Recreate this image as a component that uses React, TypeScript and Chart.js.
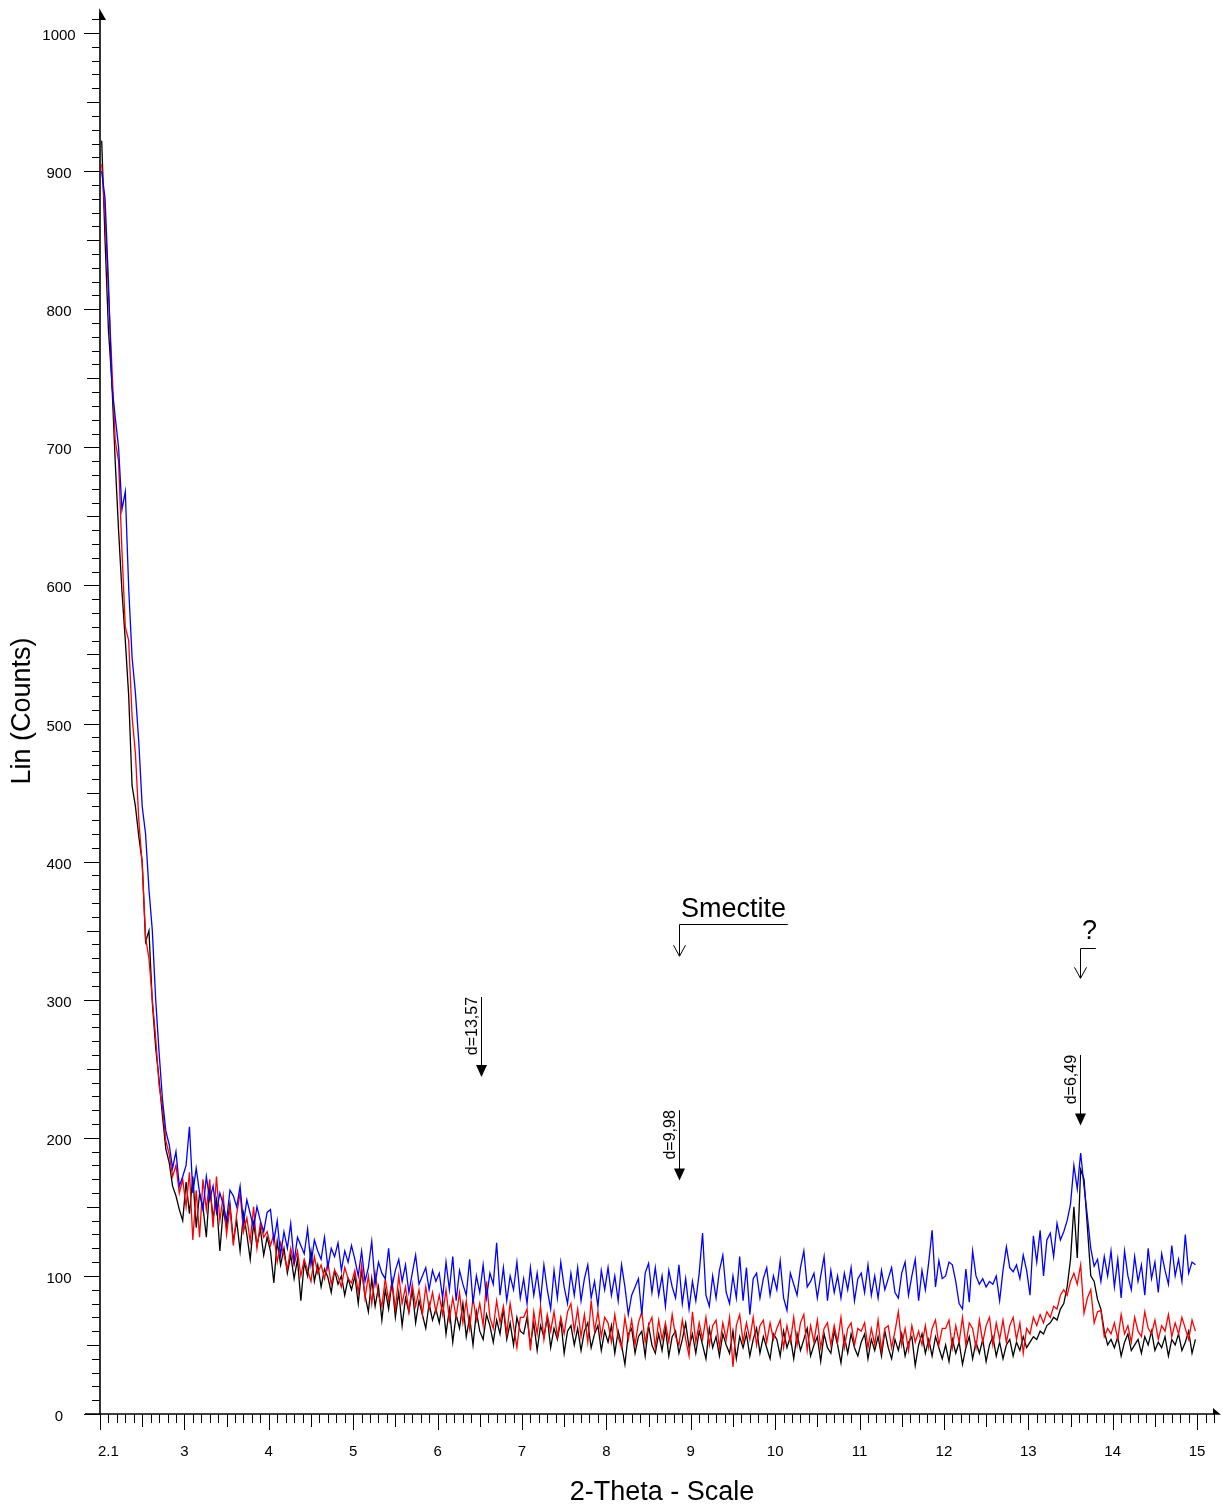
import { useEffect, useRef } from "react";
import { Chart, registerables } from "chart.js";

Chart.register(...registerables);

// ---- data (2-Theta scan, one value every 0.04° starting at 2.02°) ----
const X_START = 2.02;
const X_STEP = 0.04;

const blackCounts = [
  922, 850, 785, 748, 690, 640, 596, 560, 520, 455, 440, 418, 400, 342, 350, 298, 265, 242, 216, 192, 182, 165, 158, 148, 140,
  168, 145, 172, 135, 160, 150, 128, 165, 142, 155, 118, 148, 135, 152, 125, 140, 118, 145, 130, 112, 138, 122, 134, 115, 128,
  118, 95, 125, 108, 120, 102, 115, 98, 112, 82, 110, 100, 118, 96, 108, 92, 105, 99, 88, 104, 94, 100, 86, 98, 90,
  100, 80, 104, 86, 74, 98, 78, 92, 68, 90, 76, 96, 70, 88, 64, 84, 74, 90, 66, 82, 72, 62, 80, 68, 76,
  66, 82, 58, 76, 52, 72, 62, 80, 56, 70, 50, 74, 60, 54, 72, 64, 52, 68, 58, 76, 54, 66, 50, 70, 60,
  58, 70, 50, 66, 46, 64, 56, 70, 48, 62, 54, 68, 44, 60, 64, 50, 62, 46, 60, 66, 48, 58, 64, 46, 60,
  52, 64, 44, 60, 50, 36, 58, 62, 44, 56, 60, 42, 64, 50, 44, 58, 46, 62, 42, 56, 60, 44, 54, 66, 48,
  58, 44, 60, 50, 40, 62, 48, 56, 42, 58, 50, 44, 60, 40, 56, 48, 58, 42, 54, 62, 44, 56, 48, 40, 58,
  54, 42, 60, 48, 56, 40, 58, 46, 54, 62, 42, 50, 56, 38, 58, 48, 44, 60, 50, 37, 56, 44, 58, 48, 42,
  52, 58, 40, 54, 46, 56, 42, 60, 48, 40, 54, 46, 58, 42, 52, 56, 35, 50, 58, 44, 54, 42, 56, 48, 40,
  50, 38, 54, 44, 52, 36, 48, 56, 40, 52, 44, 54, 38, 50, 56, 42, 52, 40, 50, 54, 42, 52, 46, 56, 48,
  52, 56, 54, 60, 58, 64, 66, 70, 68, 76, 80, 92, 112, 150, 113, 177, 170, 135, 100, 96, 83, 76, 60, 50, 54,
  48, 56, 42, 52, 58, 46, 50, 54, 44, 56, 50, 60, 46, 52, 48, 56, 42, 54, 50, 58, 46, 52, 60, 44, 54,
];

const redCounts = [
  905, 868, 812, 760, 705, 690, 625, 570, 560, 505, 478, 430, 398, 345, 330, 300, 272, 238, 222, 198, 188, 172, 180, 160, 170,
  150, 175, 126, 162, 128, 170, 148, 170, 135, 172, 140, 158, 130, 150, 122, 145, 160, 132, 142, 125, 150, 120, 138, 128, 132,
  122, 130, 110, 124, 115, 105, 120, 108, 118, 100, 112, 104, 96, 114, 102, 108, 98, 110, 94, 104, 100, 92, 106, 98, 95,
  104, 88, 108, 84, 100, 80, 102, 86, 78, 98, 82, 96, 76, 100, 80, 92, 74, 94, 78, 90, 72, 92, 76, 88, 74,
  86, 72, 90, 68, 84, 70, 88, 66, 82, 62, 84, 68, 80, 64, 96, 70, 62, 82, 66, 78, 58, 80, 64, 48, 70,
  70, 76, 46, 74, 58, 78, 54, 72, 60, 74, 56, 70, 58, 74, 80, 60, 76, 56, 72, 52, 82, 60, 74, 56, 70,
  66, 52, 72, 56, 48, 70, 54, 68, 50, 66, 74, 52, 64, 70, 48, 68, 54, 66, 52, 72, 56, 50, 68, 54, 42,
  74, 52, 66, 54, 70, 50, 64, 68, 48, 66, 54, 70, 34, 64, 72, 52, 66, 54, 70, 50, 64, 68, 52, 66, 54,
  62, 68, 48, 64, 52, 70, 50, 66, 72, 46, 64, 52, 68, 48, 62, 66, 50, 64, 52, 70, 48, 62, 66, 50, 62,
  60, 66, 48, 62, 50, 68, 46, 62, 64, 48, 60, 74, 50, 62, 46, 64, 52, 60, 50, 64, 48, 62, 68, 50, 62,
  62, 68, 48, 64, 52, 70, 50, 66, 62, 48, 68, 52, 64, 70, 50, 66, 54, 68, 52, 64, 70, 54, 66, 44, 62,
  58, 70, 64, 72, 66, 74, 70, 78, 76, 86, 90, 86, 96, 102, 94, 108, 73, 84, 90, 66, 74, 75, 56, 62, 58,
  66, 54, 72, 58, 64, 52, 70, 60, 56, 74, 62, 58, 68, 54, 64, 60, 72, 56, 66, 58, 70, 62, 54, 68, 60,
];

const blueCounts = [
  900, 880, 820, 745, 722, 700, 655, 668, 598, 548, 522, 486, 440, 420, 380, 350, 300, 262, 228, 205, 195, 178, 190, 165, 172,
  180, 208, 160, 178, 160, 148, 172, 155, 165, 146, 160, 152, 140, 162, 158, 150, 165, 138, 155, 145, 135, 150, 140, 132, 146,
  148, 125, 140, 115, 132, 120, 138, 110, 128, 122, 116, 134, 108, 126, 118, 112, 128, 106, 120, 114, 124, 104, 118, 110, 122,
  112, 100, 118, 96, 106, 125, 94, 110, 102, 98, 120, 92, 104, 112, 96, 108, 88, 102, 115, 94, 100, 106, 90, 104, 96,
  102, 84, 110, 90, 114, 82, 104, 94, 86, 112, 80, 100, 88, 108, 84, 102, 94, 124, 86, 106, 82, 100, 90, 110, 84,
  98, 80, 106, 86, 102, 82, 108, 90, 76, 104, 84, 110, 92, 80, 102, 86, 106, 82, 98, 108, 84, 96, 78, 104, 90,
  106, 86, 100, 82, 108, 92, 72, 86, 92, 98, 72, 102, 109, 88, 106, 86, 100, 78, 104, 92, 84, 108, 80, 98, 76,
  96, 82, 102, 131, 86, 78, 100, 84, 104, 115, 88, 80, 100, 84, 114, 82, 106, 72, 98, 102, 84, 98, 106, 86, 100,
  90, 111, 84, 75, 102, 94, 86, 106, 118, 92, 96, 102, 84, 100, 114, 82, 104, 88, 100, 84, 102, 90, 106, 82, 98,
  102, 88, 108, 86, 100, 84, 104, 90, 98, 106, 88, 84, 102, 110, 86, 100, 112, 82, 104, 90, 110, 133, 92, 111, 98,
  100, 110, 108, 96, 80, 76, 105, 81, 118, 100, 94, 98, 92, 96, 94, 100, 82, 104, 121, 106, 103, 108, 98, 115, 104,
  86, 129, 110, 133, 100, 126, 131, 114, 138, 126, 132, 140, 152, 180, 163, 189, 165, 143, 120, 107, 112, 96, 114, 100, 118,
  92, 112, 84, 118, 100, 90, 114, 96, 108, 86, 120, 98, 110, 88, 116, 104, 94, 122, 100, 112, 96, 130, 102, 110, 108,
];

const yTickLabels = [0, 100, 200, 300, 400, 500, 600, 700, 800, 900, 1000];
const xTickLabels = [2.1, 3, 4, 5, 6, 7, 8, 9, 10, 11, 12, 13, 14, 15];

const peakMarkers = [
  { label: "d=13,57", twoTheta: 6.51, top: 302, tip: 244 },
  { label: "d=9,98", twoTheta: 8.86, top: 220, tip: 169 },
  { label: "d=6,49", twoTheta: 13.61, top: 260, tip: 209 },
];

const phaseLabels = [
  { label: "Smectite", twoTheta: 8.86, textY: 360, barY: 354.5, barEnd: 10.15, tipY: 331.5 },
  { label: "?", twoTheta: 13.61, textY: 344, barY: 337.5, barEnd: 13.8, tipY: 315.5 },
];

const X_MIN = 2.0;
const X_MAX = 15.212;
const Y_MIN = 0;
const Y_MAX = 1017.4;

const FONT = "'Liberation Sans', Arial, sans-serif";

const toPoints = (arr: number[]) => arr.map((v, i) => ({ x: X_START + i * X_STEP, y: v }));

const xrdAxesPlugin = {
  id: "xrdAxes",
  afterDatasetsDraw(chart: any) {
    const { ctx } = chart;
    const x = chart.scales.x;
    const y = chart.scales.y;
    const x0 = Math.round(x.getPixelForValue(X_MIN));
    const y0 = Math.round(y.getPixelForValue(0));
    const xEnd = x.getPixelForValue(X_MAX);
    const yTop = y.getPixelForValue(Y_MAX);

    ctx.save();
    ctx.strokeStyle = "#000";
    ctx.fillStyle = "#000";

    // tick marks y
    ctx.lineWidth = 1;
    ctx.beginPath();
    for (let k = 0; k <= 101; k++) {
      const v = k * 10;
      const py = Math.round(y.getPixelForValue(v)) + 0.5;
      const len = k % 10 === 0 ? 16 : k % 5 === 0 ? 13 : 8;
      ctx.moveTo(x0 - len, py);
      ctx.lineTo(x0, py);
    }
    // tick marks x
    for (let k = 20; k <= 152; k++) {
      const px = Math.round(x.getPixelForValue(k / 10)) + 0.5;
      const len = k % 10 === 0 ? 16 : k % 5 === 0 ? 13 : 9;
      ctx.moveTo(px, y0);
      ctx.lineTo(px, y0 + len);
    }
    ctx.stroke();

    // axis lines
    ctx.lineWidth = 1.6;
    ctx.beginPath();
    ctx.moveTo(x0, y0);
    ctx.lineTo(x0, yTop + 4);
    ctx.moveTo(x0 - 15, y0);
    ctx.lineTo(xEnd, y0);
    ctx.stroke();
    // arrows (half heads)
    ctx.beginPath();
    ctx.moveTo(x0 - 0.8, yTop - 1);
    ctx.lineTo(x0 + 6, yTop + 11);
    ctx.lineTo(x0 - 0.8, yTop + 11);
    ctx.closePath();
    ctx.fill();
    ctx.beginPath();
    ctx.moveTo(xEnd + 6, y0 + 0.8);
    ctx.lineTo(xEnd - 2, y0 - 6);
    ctx.lineTo(xEnd - 2, y0 + 0.8);
    ctx.closePath();
    ctx.fill();

    // tick labels
    ctx.font = `15px ${FONT}`;
    ctx.textAlign = "center";
    ctx.textBaseline = "alphabetic";
    for (const v of yTickLabels) {
      ctx.fillText(String(v), x0 - 41, y.getPixelForValue(v) + 7);
    }
    for (const v of xTickLabels) {
      ctx.fillText(String(v), x.getPixelForValue(v), y0 + 42);
    }

    // axis titles
    ctx.font = `27px ${FONT}`;
    ctx.fillText("2-Theta - Scale", 662, y0 + 86);
    ctx.save();
    ctx.translate(23, 711);
    ctx.rotate(-Math.PI / 2);
    ctx.textBaseline = "middle";
    ctx.fillText("Lin (Counts)", 0, 0);
    ctx.restore();

    // d-spacing markers
    ctx.lineWidth = 1;
    for (const m of peakMarkers) {
      const px = Math.round(x.getPixelForValue(m.twoTheta)) + 0.5;
      const pTop = y.getPixelForValue(m.top);
      const pTip = y.getPixelForValue(m.tip);
      ctx.beginPath();
      ctx.moveTo(px, pTop);
      ctx.lineTo(px, pTip - 10);
      ctx.stroke();
      ctx.beginPath();
      ctx.moveTo(px - 5.5, pTip - 12);
      ctx.lineTo(px + 5.5, pTip - 12);
      ctx.lineTo(px, pTip);
      ctx.closePath();
      ctx.fill();
      ctx.save();
      ctx.translate(px - 5, pTop);
      ctx.rotate(-Math.PI / 2);
      ctx.font = `16px ${FONT}`;
      ctx.textAlign = "right";
      ctx.textBaseline = "alphabetic";
      ctx.fillText(m.label, 0, 0);
      ctx.restore();
    }

    // phase labels
    for (const p of phaseLabels) {
      const px = Math.round(x.getPixelForValue(p.twoTheta)) + 0.5;
      const pBar = Math.round(y.getPixelForValue(p.barY)) + 0.5;
      const pEnd = x.getPixelForValue(p.barEnd);
      const pTip = y.getPixelForValue(p.tipY);
      ctx.beginPath();
      ctx.moveTo(pEnd, pBar);
      ctx.lineTo(px, pBar);
      ctx.lineTo(px, pTip);
      ctx.moveTo(px - 6, pTip - 11);
      ctx.lineTo(px, pTip);
      ctx.lineTo(px + 6, pTip - 11);
      ctx.stroke();
      ctx.font = `27px ${FONT}`;
      ctx.textAlign = "left";
      ctx.textBaseline = "alphabetic";
      ctx.fillText(p.label, px + 1.5, y.getPixelForValue(p.textY));
    }

    ctx.restore();
  },
};

export default function App() {
  const canvasRef = useRef<HTMLCanvasElement | null>(null);

  useEffect(() => {
    const canvas = canvasRef.current;
    if (!canvas) return;
    const chart = new Chart(canvas, {
      type: "line",
      data: {
        datasets: [
          {
            label: "black",
            data: toPoints(blackCounts),
            borderColor: "#000000",
            borderWidth: 1.3,
            pointRadius: 0,
            tension: 0,
            fill: false,
            order: 3,
          },
          {
            label: "red",
            data: toPoints(redCounts),
            borderColor: "#ff0000",
            borderWidth: 1.3,
            pointRadius: 0,
            tension: 0,
            fill: false,
            order: 2,
          },
          {
            label: "blue",
            data: toPoints(blueCounts),
            borderColor: "#0000ff",
            borderWidth: 1.3,
            pointRadius: 0,
            tension: 0,
            fill: false,
            order: 1,
          },
        ],
      },
      options: {
        responsive: false,
        animation: false,
        devicePixelRatio: 1,
        layout: { padding: { left: 100, right: 8, top: 9, bottom: 92 } },
        scales: {
          x: { type: "linear", min: X_MIN, max: X_MAX, display: false },
          y: { type: "linear", min: Y_MIN, max: Y_MAX, display: false },
        },
        plugins: {
          legend: { display: false },
          tooltip: { enabled: false },
        },
      },
      plugins: [xrdAxesPlugin],
    } as any);
    return () => chart.destroy();
  }, []);

  return (
    <div style={{ position: "absolute", left: 0, top: 0, width: 1223, height: 1506, background: "#fff" }}>
      <canvas ref={canvasRef} width={1223} height={1506} style={{ display: "block", width: 1223, height: 1506 }} />
    </div>
  );
}
